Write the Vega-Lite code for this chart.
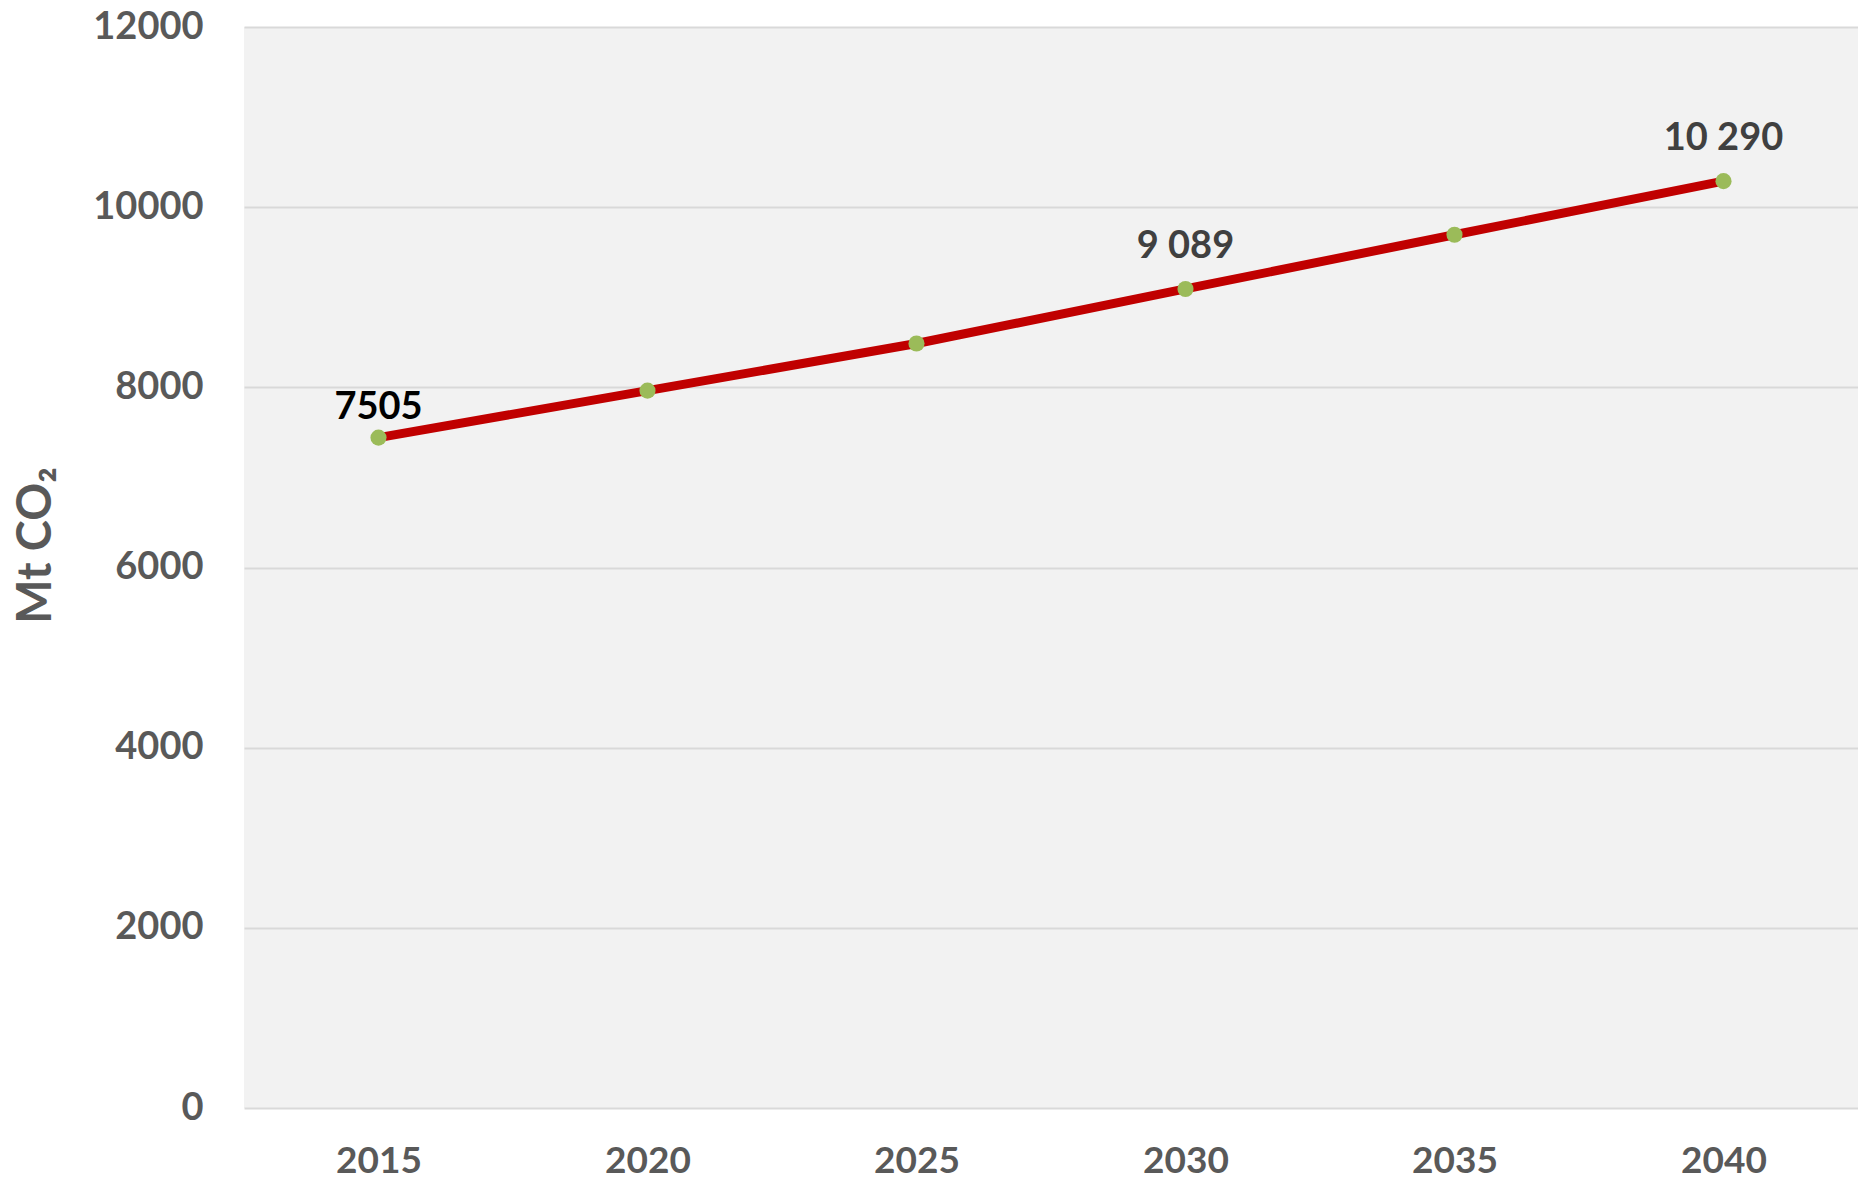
{
  "$schema": "https://vega.github.io/schema/vega-lite/v6.json",
  "autosize": "none",
  "width": 1614,
  "height": 1081,
  "padding": {"left": 244, "top": 27, "right": 0, "bottom": 74},
  "background": "white",
  "config": {
    "view": {"fill": "#f2f2f2", "stroke": null},
    "font": "Lato"
  },
  "data": {
    "values": [
      {"year": "2015", "value": 7442, "label": "7505"},
      {"year": "2020", "value": 7963, "label": ""},
      {"year": "2025", "value": 8487, "label": ""},
      {"year": "2030", "value": 9092, "label": "9 089"},
      {"year": "2035", "value": 9694, "label": ""},
      {"year": "2040", "value": 10289, "label": "10 290"}
    ]
  },
  "encoding": {
    "x": {
      "field": "year",
      "type": "ordinal",
      "scale": {"type": "point", "padding": 0.5},
      "axis": {
        "title": null,
        "labelAngle": 0,
        "domain": false,
        "ticks": false,
        "labelFont": "Lato",
        "labelFontWeight": "bold",
        "labelFontSize": 37,
        "labelColor": "#595959",
        "labelBaseline": "middle",
        "labelPadding": 53
      }
    },
    "y": {
      "field": "value",
      "type": "quantitative",
      "scale": {"domain": [0, 12000], "nice": false},
      "axis": {
        "title": "Mt CO₂",
        "values": [0, 2000, 4000, 6000, 8000, 10000, 12000],
        "format": "d",
        "domain": false,
        "ticks": false,
        "grid": true,
        "gridColor": "#d9d9d9",
        "gridWidth": 2,
        "labelFont": "Lato",
        "labelFontWeight": "bold",
        "labelFontSize": 38,
        "labelColor": "#595959",
        "labelPadding": 41,
        "labelBaseline": "middle",
        "titleFont": "Lato",
        "titleFontWeight": "bold",
        "titleFontSize": 47,
        "titleColor": "#595959",
        "titleX": -208,
        "titleY": 518,
        "titleAngle": -90,
        "titleAlign": "center",
        "titleBaseline": "middle"
      }
    }
  },
  "layer": [
    {
      "mark": {"type": "line", "color": "#c00000", "strokeWidth": 9}
    },
    {
      "mark": {"type": "point", "filled": true, "color": "#9bbb59", "opacity": 1, "size": 260}
    },
    {
      "transform": [{"filter": "datum.year == '2015'"}],
      "mark": {"type": "text", "font": "Lato", "fontWeight": "bold", "fontSize": 38, "color": "#000000", "dy": -30, "baseline": "middle"},
      "encoding": {"text": {"field": "label"}}
    },
    {
      "transform": [{"filter": "datum.year != '2015' && datum.label != ''"}],
      "mark": {"type": "text", "font": "Lato", "fontWeight": "bold", "fontSize": 38, "color": "#404040", "dy": -42, "baseline": "middle"},
      "encoding": {"text": {"field": "label"}}
    }
  ]
}
